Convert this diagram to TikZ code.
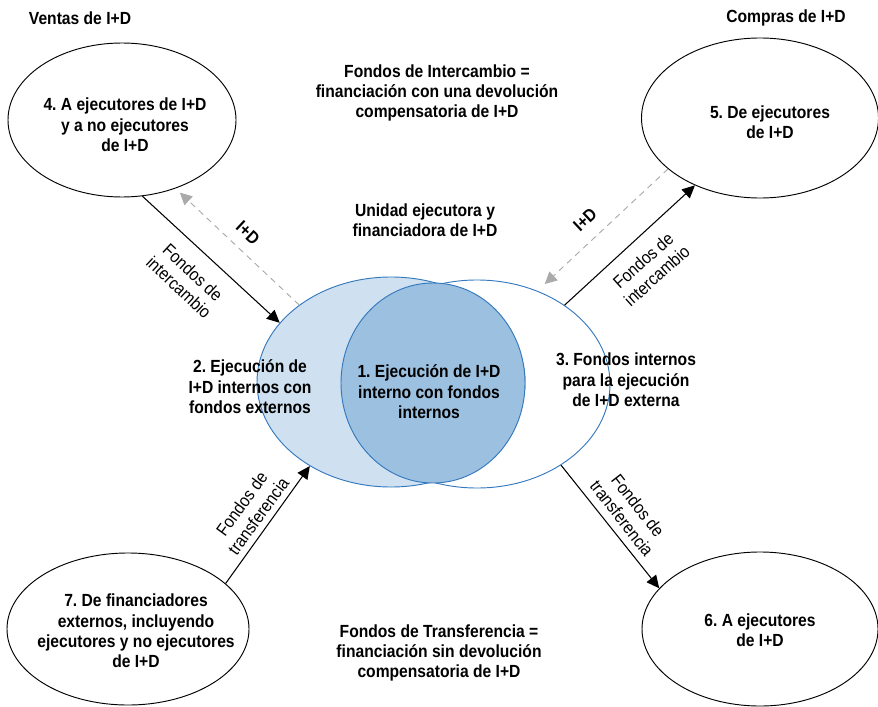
\documentclass[tikz,border=0pt]{standalone}
\usepackage{fontspec}
\setmainfont{Liberation Sans}[FakeStretch=0.89]
\usetikzlibrary{shapes.geometric,arrows.meta}
\definecolor{vennblue}{RGB}{52,120,190}
\definecolor{vennlight}{RGB}{207,225,240}
\definecolor{vennmid}{RGB}{156,192,224}
\definecolor{dashgray}{RGB}{170,170,170}
\frenchspacing

\tikzset{
  bubble/.style={ellipse, draw=black, line width=0.8pt, inner sep=0pt},
  venn/.style={ellipse, draw=vennblue, line width=0.8pt, inner sep=0pt},
  txt/.style={align=center, font=\fontsize{15}{17.4}\selectfont\bfseries},
  flowlab/.style={align=center, font=\fontsize{15}{17.4}\selectfont},
  funds/.style={-{Triangle[length=0.38cm,width=0.36cm]}, line width=0.9pt},
  goods/.style={-{Triangle[length=0.36cm,width=0.36cm]}, draw=dashgray, dash pattern=on 0.18cm off 0.15cm, line width=0.8pt},
}

\begin{document}
\begin{tikzpicture}[x=0.03cm, y=-0.03cm]
        \useasboundingbox (0,0) rectangle (878,706);

        % Venn: executing and funding unit
        \node[venn, fill=vennlight, minimum width=8.04cm, minimum height=6.3cm] (vl) at (391,382) {};
        \node[venn, minimum width=7.98cm, minimum height=6.24cm] (vr) at (477,384) {};
        \node[venn, fill=vennmid, minimum width=5.52cm, minimum height=6cm] (vi) at (433,383) {};

        \node[txt] (t1) at (429,392) {1. Ejecución de I+D\\interno con fondos\\internos};
        \node[txt] (t2) at (250,387) {2. Ejecución de\\I+D internos con\\fondos externos};
        \node[txt] (t3) at (626,380) {3. Fondos internos\\para la ejecución\\de I+D externa};

        % Outside units
        \node[bubble, minimum width=6.84cm, minimum height=4.62cm] (e4) at (122,120) {};
        \node[bubble, minimum width=7.11cm, minimum height=4.8cm] (e5) at (760,118) {};
        \node[bubble, minimum width=7.08cm, minimum height=4.62cm] (e6) at (760,629) {};
        \node[bubble, minimum width=7.26cm, minimum height=4.56cm] (e7) at (128,629) {};

        \node[txt] (t4) at (125,125) {4. A ejecutores de I+D\\y a no ejecutores\\de I+D};
        \node[txt] (t5) at (770,122) {5. De ejecutores\\de I+D};
        \node[txt] (t6) at (760,630) {6. A ejecutores\\de I+D};
        \node[txt] (t7) at (136,631) {7. De financiadores\\externos, incluyendo\\ejecutores y no ejecutores\\de I+D};

        % Headings
        \node[txt] (ventas) at (80,18) {Ventas de I+D};
        \node[txt] (compras) at (786,18) {Compras de I+D};
        \node[txt] (inter) at (437,93) {Fondos de Intercambio =\\financiación con una devolución\\compensatoria de I+D};
        \node[txt] (unidad) at (425,220) {Unidad ejecutora y\\financiadora de I+D};
        \node[txt] (transf) at (439,653) {Fondos de Transferencia =\\financiación sin devolución\\compensatoria de I+D};

        % Exchange funds and R&D
        \draw[funds] (e4.-75) -- (vl.152);
        \draw[goods, shorten >=0.18cm] (vl.140) -- (e4.-52);
        \draw[funds] (vr.42) -- (e5.-134);
        \draw[goods, shorten >=0.3cm] (e5.-151) -- (vr.57);

        % Transfer funds
        \draw[funds] (e7.25) -- (vl.-134);
        \draw[funds] (vr.-44) -- (e6.158);

        \node[flowlab, rotate=-43] (l1) at (186,280) {Fondos de\\intercambio};
        \node[txt, rotate=-43] (d1) at (248,233) {I+D};
        \node[flowlab, rotate=42] (l2) at (650,268) {Fondos de\\intercambio};
        \node[txt, rotate=43] (d2) at (585,220) {I+D};
        \node[flowlab, rotate=54] (l3) at (250,510) {Fondos de\\transferencia};
        \node[flowlab, rotate=-52] (l4) at (630,512) {Fondos de\\transferencia};
\end{tikzpicture}
\end{document}
